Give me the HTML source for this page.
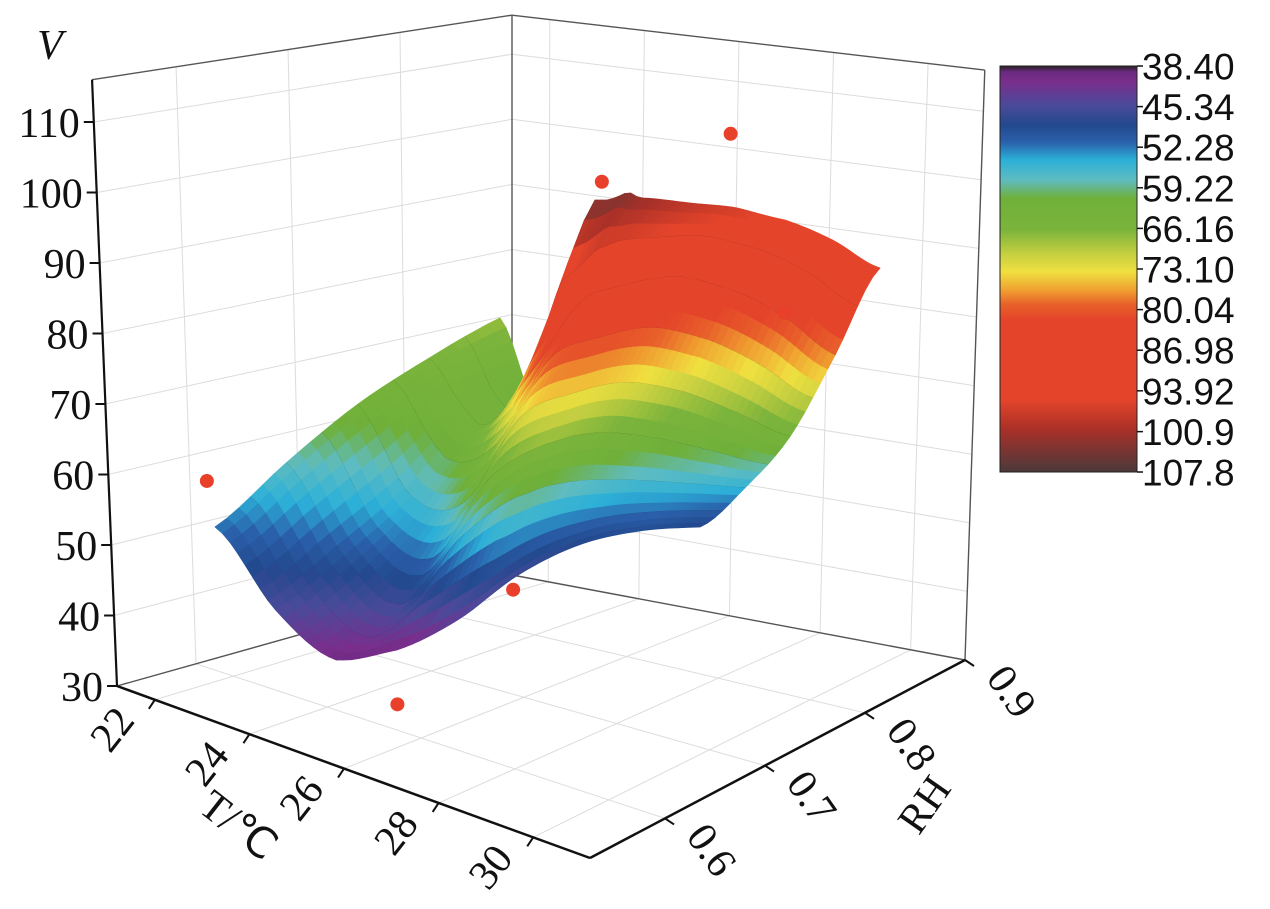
<!DOCTYPE html>
<html><head><meta charset="utf-8"><title>V surface chart</title>
<style>
html,body{margin:0;padding:0;background:#fff;}
svg{display:block;}
.tk{font-family:"Liberation Serif",serif;font-size:42px;fill:#111;}
.cb{font-family:"Liberation Sans",sans-serif;font-size:37px;fill:#111;}
</style></head>
<body>
<svg id="chart" width="1270" height="909" viewBox="0 0 1270 909" xmlns="http://www.w3.org/2000/svg">
<rect x="0" y="0" width="1270" height="909" fill="#fff"/>
<g id="walls"></g>
<g id="box"></g>
<g id="surface"></g>
<g id="points"></g>
<g id="axes"></g>
<g id="colorbar"></g>
</svg>
<script>
// ---- data ----
const tTicks = [22, 24, 26, 28, 30];
const rhTicks = [0.6, 0.7, 0.8, 0.9];
const vTicks = [30, 40, 50, 60, 70, 80, 90, 100, 110];
const cbValues = [38.40, 45.34, 52.28, 59.22, 66.16, 73.10, 80.04, 86.98, 93.92, 100.9, 107.8];
const cbLabels = ["38.40", "45.34", "52.28", "59.22", "66.16", "73.10", "80.04", "86.98", "93.92", "100.9", "107.8"];
const surfT = [22, 23, 24, 25, 26, 27, 28, 29, 30];
const surfRH = [0.6, 0.675, 0.75, 0.825, 0.9];
const surfV_rh060 = [52, 45, 40, 40, 43, 46, 48, 49, 48];
const surfV_rh0675 = [58, 50, 46, 55, 60, 59, 57, 56, 55];
const surfV_rh075 = [63, 56, 60, 72, 74, 73, 70, 67, 64];
const surfV_rh0825 = [66, 64, 78, 88, 89, 88, 85, 82, 78];
const surfV_rh090 = [68, 62, 104, 102, 99, 97, 95, 94, 93];
const ptT = [24.7, 25.5, 21.56, 24.85, 27.55, 29.57];
const ptRH = [0.636, 0.7125, 0.6, 0.825, 0.825, 0.7875];
const ptV = [30, 43.9, 57.1, 97.2, 107.4, 86];

// ---- projection helpers ----
const NS = "http://www.w3.org/2000/svg";
function mk(tag, attrs, parent){const e=document.createElementNS(NS,tag);for(const k in attrs)e.setAttribute(k,attrs[k]);parent.appendChild(e);return e;}
function bil(a00,a10,a11,a01,u,w){return a00*(1-u)*(1-w)+a10*u*(1-w)+a11*u*w+a01*(1-u)*w;}
const T0=21.2,TSPAN=10,RH0=0.525,RHSPAN=0.375,VMIN=30,VTOP=116;
function P(T,RH,V){
  const u=(T-T0)/TSPAN,w=(RH-RH0)/RHSPAN;
  const bx=bil(117,590,965,512,u,w), by=bil(686,858,660,575,u,w);
  const h=bil(7.05,7.3,6.86,6.51,u,w), c=bil(-0.29,0,0.23,0,u,w);
  return [bx+(V-VMIN)*c, by-(V-VMIN)*h];
}
const TMIN=T0,TMAX=T0+TSPAN,RHMIN=RH0,RHMAX=RH0+RHSPAN;

// colormap
const cmV=[38.4,39.4,41.1,45.1,48.5,51.4,54.5,57.9,61,66.4,70.7,73.6,76.7,79.2,81.8,95.5,100.6,106.6,107.8];
const cmC=["#2a2020","#6a2a80","#7a2e8c","#4a4a9a","#23498e","#2a60aa","#2cb0d8","#5fbcc0","#6fb03a","#7bb43c","#c8d040","#f0e040","#f0a030","#e8602a","#e4442a","#e4442a","#a83028","#5a3838","#4a3838"];
function hex(c){return [parseInt(c.substr(1,2),16),parseInt(c.substr(3,2),16),parseInt(c.substr(5,2),16)];}
function cmap(v){
  if(v<=cmV[0])return cmC[0]; if(v>=cmV[cmV.length-1])return cmC[cmC.length-1];
  let i=0;while(v>cmV[i+1])i++;
  const f=(v-cmV[i])/(cmV[i+1]-cmV[i]);const a=hex(cmC[i]),b=hex(cmC[i+1]);
  return "rgb("+a.map((x,k)=>Math.round(x+(b[k]-x)*f)).join(",")+")";
}

// ---- walls / grid ----
const walls=document.getElementById('walls');
function line(g,p,q,st,sw,name){const l=mk('line',{x1:p[0],y1:p[1],x2:q[0],y2:q[1],stroke:st,'stroke-width':sw},g);

return l;}
const GR="#dcdcdc";
vTicks.forEach(v=>{ if(v===VMIN)return;
  line(walls,P(TMIN,RHMIN,v),P(TMIN,RHMAX,v),GR,1,'left-wall-gridline');
  line(walls,P(TMIN,RHMAX,v),P(TMAX,RHMAX,v),GR,1,'right-wall-gridline');});
rhTicks.forEach(r=>{
  line(walls,P(TMIN,r,VMIN),P(TMIN,r,VTOP),GR,1,'left-wall-gridline');
  line(walls,P(TMIN,r,VMIN),P(TMAX,r,VMIN),GR,1,'floor-gridline');});
tTicks.forEach(t=>{
  line(walls,P(t,RHMAX,VMIN),P(t,RHMAX,VTOP),GR,1,'right-wall-gridline');
  line(walls,P(t,RHMIN,VMIN),P(t,RHMAX,VMIN),GR,1,'floor-gridline');});

// ---- box frame ----
const box=document.getElementById('box');
const BC="#555";
line(box,P(TMIN,RHMAX,VMIN),P(TMIN,RHMAX,VTOP),BC,1.4,'back-edge');
line(box,P(TMAX,RHMAX,VMIN),P(TMAX,RHMAX,VTOP),BC,1.4,'right-edge');
line(box,P(TMIN,RHMIN,VTOP),P(TMIN,RHMAX,VTOP),BC,1.4,'top-left-edge');
line(box,P(TMIN,RHMAX,VTOP),P(TMAX,RHMAX,VTOP),BC,1.4,'top-right-edge');
line(box,P(TMIN,RHMIN,VMIN),P(TMIN,RHMAX,VMIN),BC,1.4,'floor-left-edge');
line(box,P(TMIN,RHMAX,VMIN),P(TMAX,RHMAX,VMIN),BC,1.4,'floor-right-edge');

// ---- surface ----
const rows=[surfV_rh060,surfV_rh0675,surfV_rh075,surfV_rh0825,surfV_rh090];
function cr(a,f){const n=a.length;let i=Math.floor(f);if(i<0)i=0;if(i>n-2)i=n-2;const t=f-i;
  const p0=a[Math.max(i-1,0)],p1=a[i],p2=a[i+1],p3=a[Math.min(i+2,n-1)];
  let v=0.5*(2*p1+(-p0+p2)*t+(2*p0-5*p1+4*p2-p3)*t*t+(-p0+3*p1-3*p2+p3)*t*t*t);
  const lo=Math.min(p1,p2),hi=Math.max(p1,p2);
  if(v<lo)v=lo;if(v>hi)v=hi;return v;}
// surface view projection (screen warp for this view)
const projFrontY=[659,700,720,710,698,671,653,645,635];
const projBackY=[546,606,644,630,617,610,610,624,646];
const VK=6;
function surfV(s,t){const col=rows.map(r=>cr(r,s*(surfT.length-1)));return cr(col,t*(surfRH.length-1));}
function SP(s,t){
  const V=surfV(s,t);
  const x=(215+485*s)*(1-t)+(500+380*s)*t;
  const by=cr(projFrontY,s*8)*(1-t)+cr(projBackY,s*8)*t;
  return [x,by-(V-VMIN)*VK,V];
}
const surf=document.getElementById('surface');
const NSs=64,NTt=24;
const grid=[];
for(let i=0;i<=NSs;i++){grid.push([]);for(let j=0;j<=NTt;j++)grid[i].push(SP(i/NSs,j/NTt));}
const quads=[];
for(let i=0;i<NSs;i++)for(let j=0;j<NTt;j++){
  quads.push({i,j,d:(1-(i+.5)/NSs)+((j+.5)/NTt)});
}
quads.sort((a,b)=>b.d-a.d);
quads.forEach(q=>{
  const a=grid[q.i][q.j],b=grid[q.i+1][q.j],c=grid[q.i+1][q.j+1],d=grid[q.i][q.j+1];
  const col=cmap((a[2]+b[2]+c[2]+d[2])/4);
  const p=mk('polygon',{points:[a,b,c,d].map(v=>v[0].toFixed(1)+","+v[1].toFixed(1)).join(" "),fill:col,stroke:col,'stroke-width':0.8,'stroke-linejoin':'round'},surf);
  
  
  if(q.j>0 && q.j%3===0){
    const l=mk('line',{x1:a[0],y1:a[1],x2:b[0],y2:b[1],stroke:'rgba(30,30,30,0.5)','stroke-width':1},surf);
    
    
  }
});

// ---- data points ----
const pts=document.getElementById('points');
ptT.forEach((t,k)=>{const p=P(t,ptRH[k],ptV[k]);
  const c=mk('circle',{cx:p[0],cy:p[1],r:7,fill:'#e8402a'},pts);
  
  });

// ---- axes ----
const ax=document.getElementById('axes');
line(ax,P(TMIN,RHMIN,VMIN),P(TMIN,RHMIN,VTOP),'#111',2.2,'v-axis-line');
line(ax,P(TMIN,RHMIN,VMIN),P(TMAX,RHMIN,VMIN),'#111',2.5,'t-axis-line');
line(ax,P(TMAX,RHMIN,VMIN),P(TMAX,RHMAX,VMIN),'#111',2.5,'rh-axis-line');
function txt(g,x,y,s,cls,anchor,rot,name){const e=mk('text',{x:x,y:y,'class':cls,'text-anchor':anchor,'dominant-baseline':'central'},g);
  if(rot)e.setAttribute('transform','rotate('+rot+' '+x+' '+y+')');e.textContent=s;
  
  return e;}
vTicks.forEach(v=>{const p=P(TMIN,RHMIN,v);line(ax,p,[p[0]-10,p[1]],'#111',2,'v-tick');
  txt(ax,p[0]-14,p[1]+2,String(v),'tk','end',0,'v-tick-label');});
tTicks.forEach(t=>{const p=P(t,RHMIN,VMIN);line(ax,p,[p[0]-6,p[1]+9],'#111',2,'t-tick');
  txt(ax,p[0]-42,p[1]+30,String(t),'tk','middle',-52,'t-tick-label');});
rhTicks.forEach(r=>{const p=P(TMAX,r,VMIN);line(ax,p,[p[0]+9,p[1]+6],'#111',2,'rh-tick');
  txt(ax,p[0]+46,p[1]+32,r.toFixed(1),'tk','middle',55,'rh-tick-label');});
txt(ax,238,826,"T/℃",'tk','middle',38,'t-axis-title');
txt(ax,925,805,"RH",'tk','middle',-55,'rh-axis-title');
const vt=txt(ax,50,46,"V",'tk','middle',0,'v-axis-title');vt.setAttribute('font-style','italic');

// ---- colorbar ----
const cbg=document.getElementById('colorbar');
const CBX=1000,CBW=137,CBY0=66,CBY1=472,CBMIN=38.4,CBMAX=107.8;
const defs=mk('defs',{},cbg);
const lg=mk('linearGradient',{id:'cbgrad',x1:0,y1:0,x2:0,y2:1},defs);
cmV.forEach((v,k)=>mk('stop',{offset:((v-CBMIN)/(CBMAX-CBMIN)).toFixed(4),'stop-color':cmC[k]},lg));
const rb=mk('rect',{x:CBX,y:CBY0,width:CBW,height:CBY1-CBY0,fill:'url(#cbgrad)',stroke:'#222','stroke-width':1},cbg);


cbValues.forEach((v,k)=>{const y=CBY0+(v-CBMIN)/(CBMAX-CBMIN)*(CBY1-CBY0);
  line(cbg,[CBX+CBW,y],[CBX+CBW+6,y],'#111',1.5,'colorbar-tick');
  txt(cbg,CBX+CBW+5,y+1,cbLabels[k],'cb','start',0,'colorbar-label');});
</script>
</body></html>
